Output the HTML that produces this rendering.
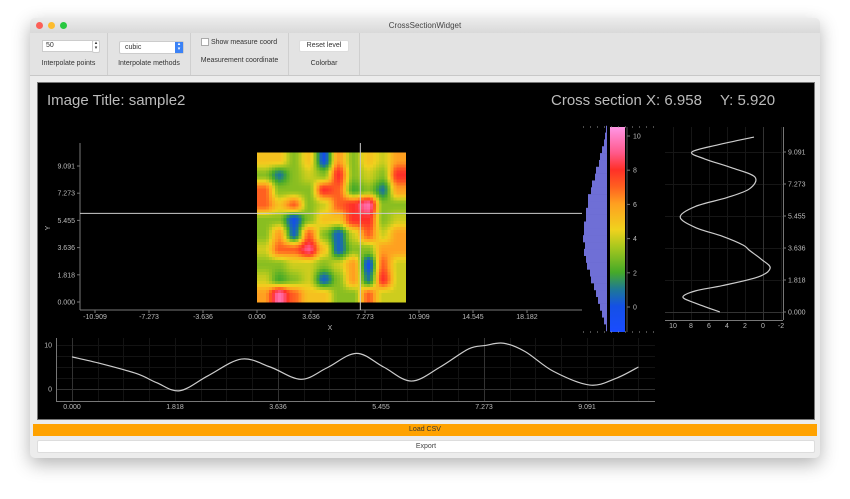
<!DOCTYPE html>
<html><head><meta charset="utf-8">
<style>
body{margin:0;width:850px;height:499px;background:#fff;font-family:"Liberation Sans",sans-serif;overflow:hidden;position:relative}
.win{position:absolute;left:30px;top:18px;width:790px;height:440px;background:#ececec;border-radius:5px;box-shadow:0 6px 18px rgba(0,0,0,.3);overflow:hidden}
.tb{position:absolute;left:0;top:0;width:790px;height:15px;background:linear-gradient(#ececec,#d9d9d9);font-size:8px;color:#444;text-align:center;line-height:15px}
.dot{position:absolute;top:4px;width:7px;height:7px;border-radius:50%}
.toolbar{position:absolute;left:0;top:15px;width:790px;height:42px;background:#e3e3e3;border-bottom:1px solid #c8c8c8}
.sec{position:absolute;top:0;height:42px;border-right:1px solid #cfcfcf;font-size:7px;color:#333;text-align:center}
.lbl{position:absolute;left:0;right:0;top:27px}
.panel{position:absolute;left:7px;top:64px;width:776px;height:336px;background:#000;border:1px solid #777}
.btn{position:absolute;font-size:7px;text-align:center}
svg{position:absolute;left:0;top:0}
</style></head><body>
<div class="win">
 <div class="tb">CrossSectionWidget
  <div class="dot" style="left:6px;background:#fc5f57"></div>
  <div class="dot" style="left:18px;background:#fdbc2e"></div>
  <div class="dot" style="left:30px;background:#28c840"></div>
 </div>
 <div class="toolbar">
  <div class="sec" style="left:0;width:77px">
   <div style="position:absolute;left:12px;top:7px;width:46px;height:10px;background:#fff;border:1px solid #ccc;text-align:left;padding-left:3px;line-height:10px">50</div>
   <div style="position:absolute;left:62px;top:7px;width:6px;height:11px;border:1px solid #ccc;border-radius:2px;background:#fff;font-size:5px;line-height:5px">▴<br>▾</div>
   <div class="lbl">Interpolate points</div></div>
  <div class="sec" style="left:78px;width:82px">
   <div style="position:absolute;left:11px;top:8px;width:58px;height:11px;background:#fff;border:1px solid #ccc;border-radius:2px;text-align:left;padding-left:5px;line-height:11px">cubic<span style="position:absolute;right:0;top:0;width:8px;height:11px;background:#3b82f6;color:#fff;font-size:5px;line-height:5px;text-align:center">▴<br>▾</span></div>
   <div class="lbl">Interpolate methods</div></div>
  <div class="sec" style="left:161px;width:97px">
   <div style="position:absolute;left:10px;top:5px;font-size:7px"><span style="display:inline-block;width:6px;height:6px;border:1px solid #aaa;background:#fff;vertical-align:middle"></span> Show measure coord</div>
   <div class="lbl" style="top:24px">Measurement coordinate</div></div>
  <div class="sec" style="left:259px;width:70px">
   <div style="position:absolute;left:10px;top:7px;width:48px;height:10px;background:#fff;border:1px solid #ddd;border-radius:2px;line-height:10px">Reset level</div>
   <div class="lbl">Colorbar</div></div>
 </div>
 <div class="panel"></div>
 <div class="btn" style="left:3px;top:406px;width:784px;height:12px;background:#ffa200;line-height:12px;color:#333">Load CSV</div>
 <div class="btn" style="left:7px;top:422px;width:776px;height:11px;background:#fff;border:1px solid #ddd;border-radius:2px;line-height:11px;color:#444">Export</div>
</div>
<svg id="s" width="850" height="499" font-family="Liberation Sans, sans-serif"></svg>
<script>
// ---- data ----
const heatGrid=[
[5,5,3,5,0,6,3,5,4,6],
[3,1,3,4,3,8,3,4,3,8],
[7,3,3,3,8,7,2,3,1,6],
[7,5,7,3,4,7,8,9.5,3,3],
[3,3,0,3,5,5,8,8,3,4],
[3,6,0.5,7,3,0.5,4,7,4,6],
[4,7,7,9,5,0.5,3,3,6,6],
[3,3,4,4,3,4,6,0,7,4],
[4,2,3,4,0.5,3,6,1,8,4],
[6,9.5,7,5,5,3,3,7,4,4]];
const mainXTicks=["-10.909","-7.273","-3.636","0.000","3.636","7.273","10.909","14.545","18.182"];
const mainYTicks=["0.000","1.818","3.636","5.455","7.273","9.091"];
const crossX=6.958, crossY=5.920;
const histBins=[-1.4,-1.0,-0.6,-0.2,0.2,0.6,1.0,1.4,1.8,2.2,2.6,3.0,3.4,3.8,4.2,4.6,5.0,5.4,5.8,6.2,6.6,7.0,7.4,7.8,8.2,8.6,9.0,9.4,9.8,10.2];
const histCounts=[1,3,5,7,9,11,13,16,17,20,21,23,22,24,23,23,21,21,19,19,16,15,12,11,8,7,5,3,2,1];
const cbTicks=[0,2,4,6,8,10];
const profY=[0,0.5,0.85,1.2,1.5,2.0,2.5,3.0,3.5,3.8,4.3,4.8,5.4,6.0,6.5,7.0,7.67,8.2,8.7,9.09,9.5,9.94];
const profV=[4.8,7.5,8.9,7.5,4.5,0.5,-0.8,0.2,1.5,2.2,4.5,7.5,9.2,7.5,4,1.5,0.9,3.5,6.5,7.9,5,1];
const profXTicks=[10,8,6,4,2,0,-2];
const botX=[0,0.5,1.14,1.5,1.9,2.4,2.99,3.5,4.04,4.5,5.02,5.5,5.99,6.5,7.0,7.3,7.62,8.0,8.5,9.14,9.6,10.0];
const botV=[7.3,5.8,3.5,1.4,-0.4,3.0,6.8,5.0,2.2,4.8,8.1,5.0,1.8,5.0,9.1,9.9,10.4,8.5,4.0,0.9,2.4,5.0];
const botXTicks=["0.000","1.818","3.636","5.455","7.273","9.091"];
const botYTicks=[0,10];
// ---- scales ----
const mx=v=>257+v*14.85, my=v=>302-v*14.96;
const cy=v=>307-v*17.1;
const px=v=>763-v*9, py=v=>312-v*17.6;
const bx=v=>72+v*56.65, by=v=>389-v*4.4;
const stops=[[-1.5,[26,76,255]],[0,[20,80,230]],[1,[30,120,150]],[2,[70,170,40]],[3.5,[170,200,30]],[4.5,[240,210,30]],[6,[255,160,32]],[7,[255,96,32]],[8,[255,48,40]],[9,[255,90,140]],[10.5,[255,150,230]]];
function cmap(v){if(v<=stops[0][0])return`rgb(${stops[0][1]})`;for(let i=1;i<stops.length;i++){if(v<=stops[i][0]){const a=stops[i-1],b=stops[i],t=(v-a[0])/(b[0]-a[0]);return`rgb(${a[1].map((c,k)=>Math.round(c+(b[1][k]-c)*t))})`;}}return`rgb(${stops[stops.length-1][1]})`;}
const S=document.getElementById('s'),NS='http://www.w3.org/2000/svg';
function el(t,a,p){const e=document.createElementNS(NS,t);for(const k in a)e.setAttribute(k,a[k]);(p||S).appendChild(e);return e;}
function txt(x,y,s,a,p){const e=el('text',Object.assign({x,y,fill:'#bbb','font-size':7},a||{}),p);e.textContent=s;return e;}
// titles
let t=txt(47,105,'Image Title:  sample2',{'font-size':15,fill:'#bbb'});


t=txt(551,105,'Cross section X: '+crossX.toFixed(3),{'font-size':15,fill:'#bbb'});


t=txt(720,105,'Y: '+crossY.toFixed(3),{'font-size':15,fill:'#bbb'});


// heatmap (smooth interpolation of grid values)
const defs=el('defs',{});
const g=el('g',{'shape-rendering':'crispEdges'});


const n=heatGrid.length;
function sampleGrid(u,v){ // u,v in cell units
  const cu=Math.min(Math.max(u-0.5,0),n-1.0001),cv=Math.min(Math.max(v-0.5,0),n-1.0001);
  const i=Math.floor(cv),j=Math.floor(cu);let fy=cv-i,fx=cu-j;
  fx=fx*fx*(3-2*fx);fy=fy*fy*(3-2*fy);
  const a=heatGrid[i][j],b=heatGrid[i][j+1],c=heatGrid[i+1][j],d=heatGrid[i+1][j+1];
  return (a*(1-fx)+b*fx)*(1-fy)+(c*(1-fx)+d*fx)*fy;}
const sub=50,x0=mx(0),y0=my(10),W=mx(10)-mx(0),H=my(0)-my(10),sw=W/sub,sh=H/sub;
for(let r=0;r<sub;r++)for(let c=0;c<sub;c++){
  const val=sampleGrid((c+0.5)/sub*n,(r+0.5)/sub*n);
  el('rect',{x:(x0+c*sw).toFixed(2),y:(y0+r*sh).toFixed(2),width:(sw+0.6).toFixed(2),height:(sh+0.6).toFixed(2),fill:cmap(val)},g);}
// main axes
el('line',{x1:80,y1:143,x2:80,y2:310,stroke:'#777','stroke-width':1});
el('line',{x1:80,y1:310,x2:582,y2:310,stroke:'#777','stroke-width':1});
mainXTicks.forEach(s=>{const x=mx(parseFloat(s));el('line',{x1:x,y1:310,x2:x,y2:313,stroke:'#777'});const e=txt(x,319,s,{'text-anchor':'middle'});

});
mainYTicks.forEach(s=>{const y=my(parseFloat(s));el('line',{x1:77,y1:y,x2:80,y2:y,stroke:'#777'});const e=txt(75,y+2.5,s,{'text-anchor':'end'});

});
t=txt(330,330,'X',{'text-anchor':'middle'});


t=txt(0,0,'Y',{'text-anchor':'middle',transform:'translate(50,228) rotate(-90)'});


let l=el('line',{x1:80,y1:my(crossY),x2:582,y2:my(crossY),stroke:'#ccc','stroke-width':1});


l=el('line',{x1:mx(crossX),y1:143,x2:mx(crossX),y2:310,stroke:'#ccc','stroke-width':1});


// histogram
const hg=el('g',{});


histBins.forEach((b,i)=>{const y1=cy(b+0.4),y2=cy(b);const r=el('rect',{x:607-histCounts[i],y:y1,width:histCounts[i],height:y2-y1+0.3,fill:'#6f6fd6'},hg);

});
// colorbar
const lg=el('linearGradient',{id:'cb',x1:0,y1:1,x2:0,y2:0},defs);
stops.forEach(s=>el('stop',{offset:(s[0]+1.5)/12,'stop-color':cmap(s[0])},lg));
let r=el('rect',{x:610,y:127,width:15,height:205,fill:'url(#cb)'});


el('line',{x1:627,y1:127,x2:627,y2:332,stroke:'#555'});
cbTicks.forEach(v=>{el('line',{x1:627,y1:cy(v),x2:630,y2:cy(v),stroke:'#777'});const e=txt(633,cy(v)+2.5,String(v));

});
[127,332].forEach(y=>el('line',{x1:583,y1:y,x2:660,y2:y,stroke:'#999','stroke-dasharray':'1 6'}));
// profile plot
profXTicks.forEach(v=>el('line',{x1:px(v)+0.5,y1:127,x2:px(v)+0.5,y2:320,stroke:'#161616'}));
mainYTicks.forEach(s=>el('line',{x1:665,y1:py(+s)+0.5,x2:783,y2:py(+s)+0.5,stroke:'#161616'}));
el('line',{x1:783.5,y1:127,x2:783.5,y2:320,stroke:'#777'});
el('line',{x1:665,y1:320.5,x2:783,y2:320.5,stroke:'#777'});
el('line',{x1:px(0)+0.5,y1:127,x2:px(0)+0.5,y2:320,stroke:'#333'});
el('line',{x1:665,y1:py(0)+0.5,x2:783,y2:py(0)+0.5,stroke:'#333'});
profXTicks.forEach(v=>{const e=txt(px(v),328,String(v),{'text-anchor':'middle'});

});
mainYTicks.forEach(s=>{el('line',{x1:783,y1:py(+s),x2:786,y2:py(+s),stroke:'#777'});const e=txt(788,py(+s)+2.5,s);

});
function smooth(pts){let d=`M${pts[0][0]},${pts[0][1]}`;for(let i=0;i<pts.length-1;i++){const p0=pts[i-1]||pts[i],p1=pts[i],p2=pts[i+1],p3=pts[i+2]||p2;d+=` C${p1[0]+(p2[0]-p0[0])/6},${p1[1]+(p2[1]-p0[1])/6} ${p2[0]-(p3[0]-p1[0])/6},${p2[1]-(p3[1]-p1[1])/6} ${p2[0]},${p2[1]}`;}return d;}
let p=el('path',{d:smooth(profY.map((y,i)=>[px(profV[i]),py(y)])),fill:'none',stroke:'#ccc','stroke-width':1.2});


// bottom plot
for(let v=0;v<=10.3;v+=0.909/2){el('line',{x1:Math.round(bx(v))+0.5,y1:338,x2:Math.round(bx(v))+0.5,y2:401,stroke:'#131313'});}
[0,2.5,5,7.5,10].forEach(v=>el('line',{x1:56,y1:Math.round(by(v))+0.5,x2:655,y2:Math.round(by(v))+0.5,stroke:'#131313'}));
[0,3.636,7.273].forEach(v=>el('line',{x1:Math.round(bx(v))+0.5,y1:338,x2:Math.round(bx(v))+0.5,y2:401,stroke:'#333'}));
el('line',{x1:56,y1:389.5,x2:655,y2:389.5,stroke:'#333'});
el('line',{x1:56.5,y1:338,x2:56.5,y2:401,stroke:'#777'});
el('line',{x1:56,y1:401.5,x2:655,y2:401.5,stroke:'#777'});
botXTicks.forEach(s=>{const e=txt(bx(+s),409,s,{'text-anchor':'middle'});

});
botYTicks.forEach(v=>{const e=txt(52,by(v)+2.5,String(v),{'text-anchor':'end'});

});
p=el('path',{d:smooth(botX.map((x,i)=>[bx(x),by(botV[i])])),fill:'none',stroke:'#ccc','stroke-width':1.2});


</script>
</body></html>
